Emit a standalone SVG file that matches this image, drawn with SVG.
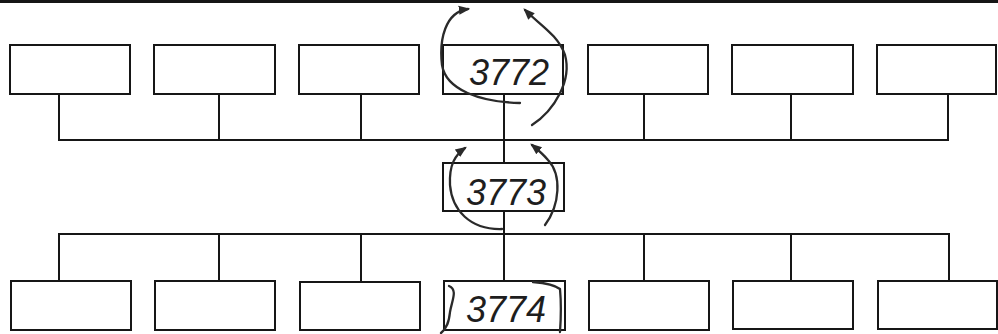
<svg xmlns="http://www.w3.org/2000/svg" width="998" height="334" viewBox="0 0 998 334">
<style>
.box{fill:#fff;stroke:#161616;stroke-width:2}
.ln{stroke:#161616;stroke-width:2;fill:none}
.hand{fill:none;stroke:#2a2a2a;stroke-width:2.3;stroke-linecap:round}
.lbl{font-family:"Liberation Sans",Arial,sans-serif;font-style:italic;font-size:36px;fill:#1e1e1e;text-anchor:middle}
</style>
<defs>
<marker id="ah" viewBox="0 0 10 10" refX="8" refY="5" markerWidth="5" markerHeight="5" orient="auto"><path d="M0,1 L10,5 L0,9 z" fill="#2a2a2a"/></marker>
</defs>
<rect x="0" y="0" width="998" height="334" fill="#fff"/>
<line x1="0" y1="1.5" x2="998" y2="1.5" stroke="#161616" stroke-width="3"/>
<g id="connectors">
<path class="ln" d="M59,94 V140 H948 V94"/>
<path class="ln" d="M219,94 V140 M361,94 V140 M644,94 V140 M791,94 V140"/>
<path class="ln" d="M504,94 V163 M504,211 V281"/>
<path class="ln" d="M59,281 V234 H949 V281"/>
<path class="ln" d="M219,234 V281 M361,234 V281 M644,234 V281 M791,234 V281"/>
</g>
<g id="top-row">
<g id="t1"><rect class="box" x="10" y="45" width="120" height="49"/></g>
<g id="t2"><rect class="box" x="154" y="45" width="121" height="49"/></g>
<g id="t3"><rect class="box" x="299" y="45" width="120" height="49"/></g>
<g id="n3772"><rect class="box" x="443" y="45" width="120" height="49"/><text class="lbl" x="509" y="85">3772</text></g>
<g id="t5"><rect class="box" x="588" y="45" width="120" height="49"/></g>
<g id="t6"><rect class="box" x="732" y="45" width="121" height="49"/></g>
<g id="t7"><rect class="box" x="877" y="45" width="119" height="49"/></g>
</g>
<g id="n3773"><rect class="box" x="443" y="163" width="121" height="48"/><text class="lbl" x="506" y="205">3773</text></g>
<g id="bottom-row">
<g id="b1"><rect class="box" x="11" y="281" width="120" height="49"/></g>
<g id="b2"><rect class="box" x="155" y="281" width="120" height="49"/></g>
<g id="b3"><rect class="box" x="300" y="282" width="120" height="48"/></g>
<g id="n3774"><rect class="box" x="444" y="281" width="121" height="49"/><text class="lbl" x="506" y="322">3774</text></g>
<g id="b5"><rect class="box" x="589" y="281" width="120" height="49"/></g>
<g id="b6"><rect class="box" x="733" y="281" width="120" height="48"/></g>
<g id="b7"><rect class="box" x="878" y="281" width="119" height="48"/></g>
</g>
<g id="handwritten-arrows">
<path class="hand" d="M520,103 C480,102 446,90 442,65 C439,40 445,12 468,9" marker-end="url(#ah)"/>
<path class="hand" d="M532,125 C555,110 572,80 565,55 C558,35 540,25 525,10" marker-end="url(#ah)"/>
<path class="hand" d="M502,229 C470,230 452,210 450,185 C449,165 455,155 465,148" marker-end="url(#ah)"/>
<path class="hand" d="M545,225 C560,205 562,175 548,160 C542,153 537,149 532,145" marker-end="url(#ah)"/>
<path class="hand" stroke-width="1.5" d="M449,286 C458,290 452,300 450,312 C449,322 447,328 441,333"/>
<path class="hand" stroke-width="1.5" d="M533,282 C545,283 555,285 560,289 C561,300 561,318 560,332"/>
</g>
</svg>
